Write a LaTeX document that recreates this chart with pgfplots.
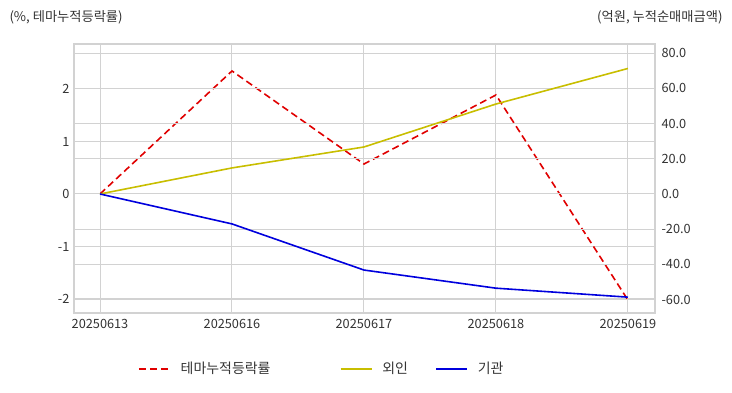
\documentclass[border=0pt]{standalone}
\usepackage{pgfplots}
\pgfplotsset{compat=1.18}
\usepackage{fontspec}
\setmainfont{Noto Sans CJK KR}
\definecolor{gridc}{HTML}{D2D2D2}
\definecolor{txtc}{HTML}{333333}
\definecolor{redc}{HTML}{E00000}
\definecolor{yelc}{HTML}{C8BE00}
\definecolor{bluc}{HTML}{0000DD}
\begin{document}
\begin{tikzpicture}[x=1bp,y=1bp]
\path[use as bounding box] (0,0) rectangle (732,392);
\pgfplotsset{every axis/.append style={
  scale only axis, width=581bp, height=269bp,
  at={(74bp,79bp)}, anchor=south west,
  xmin=-0.197, xmax=4.205,
  /pgf/number format/assume math mode=true,
  tick label style={font=\fontsize{12.8}{14}\selectfont, text=txtc},
  major tick length=0pt,
  grid style={gridc, line width=1bp},
}}
\begin{axis}[
  axis line style={gridc, line width=1.5bp},
  ymin=-2.267, ymax=2.857,
  ytick={-2,-1,0,1,2},
  xtick={0,1,2,3,4},
  xticklabels={20250613,20250616,20250617,20250618,20250619},
  xmajorgrids, ymajorgrids,
  yticklabel style={xshift=-1bp},
  xticklabel style={yshift=-3bp},
  legend columns=3,
  legend style={at={(0.110,-0.208)}, anchor=west, draw=none, fill=none,
    font=\fontsize{14}{16}\selectfont, text=txtc,
    inner sep=0pt, column sep=0pt,
    nodes={inner xsep=0pt, inner ysep=2bp}},
  legend image code/.code={\draw[#1] (0bp,0bp) -- (31bp,0bp);},
]
\addplot[redc, line width=1.6bp, dash pattern=on 7bp off 4bp] coordinates {(0,0) (1,2.343) (2,0.571) (3,1.886) (4,-2.02)};
\addlegendentry{\hspace{10bp}\makebox[159bp][l]{테마누적등락률}}
\addlegendimage{yelc, line width=1.6bp}
\addlegendentry{\hspace{10bp}\makebox[53bp][l]{외인}}
\addlegendimage{bluc, line width=1.6bp}
\addlegendentry{\hspace{10bp}기관}
\end{axis}
\begin{axis}[
  axis y line*=right, axis x line=none,
  axis line style={gridc, line width=1.5bp},
  ymin=-67.6, ymax=85.2,
  ytick={-60,-40,-20,0,20,40,60,80},
  ymajorgrids,
  yticklabel style={/pgf/number format/fixed, /pgf/number format/fixed zerofill, /pgf/number format/precision=1, xshift=3bp},
]
\addplot[yelc, line width=1.6bp] coordinates {(0,0) (1,14.8) (2,26.7) (3,51.1) (4,71.3)};
\addplot[bluc, line width=1.6bp] coordinates {(0,0) (1,-17.0) (2,-43.2) (3,-53.5) (4,-58.6)};
\end{axis}
\node[anchor=west, text=txtc, font=\fontsize{13.3}{15}\selectfont] at (6,375) {(\%, 테마누적등락률)};
\node[anchor=east, text=txtc, font=\fontsize{13.3}{15}\selectfont] at (726,375) {(억원, 누적순매매금액)};
\end{tikzpicture}
\end{document}
